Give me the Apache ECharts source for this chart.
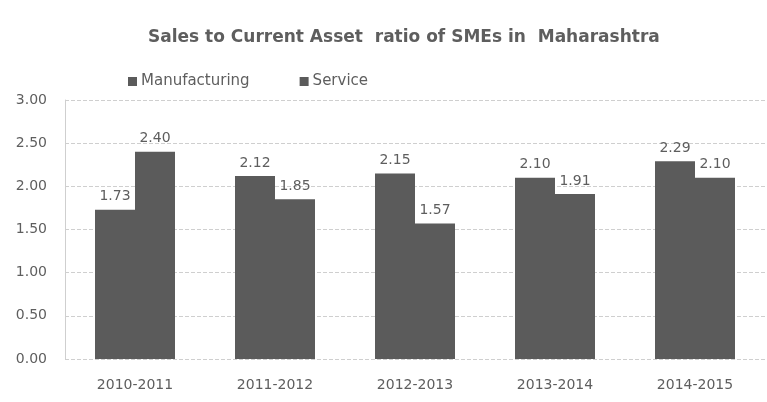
<!DOCTYPE html>
<html>
    <head>
        <title>Sales to Current Asset ratio</title>
        <meta charset="UTF-8">
        <script src="https://cdn.jsdelivr.net/npm/echarts@6/dist/echarts.min.js"></script>
    </head>
    <body style="margin:0;background-color:#fff;">
        <div id="main" style="width:767px;height:402px;"></div>
        <script>
            var years = ['2010-2011', '2011-2012', '2012-2013', '2013-2014', '2014-2015'];
            var manufacturing = [1.73, 2.12, 2.15, 2.10, 2.29];
            var service = [2.40, 1.85, 1.57, 1.91, 2.10];

            var gb = {
                bar: '#5b5b5b',
                text: '#5e5e5e',
                grid: '#cfcfcf',
                font: 'DejaVu Sans'
            };

            var myChart = echarts.init(document.getElementById('main'));

            var label = {
                show: true,
                position: 'top',
                distance: 6,
                color: gb.text,
                fontSize: 14,
                fontFamily: gb.font,
                formatter: function (p) {
                    return p.value.toFixed(2);
                }
            };

            var option = {
                backgroundColor: '#fff',
                animation: false,
                title: {
                    text: 'Sales to Current Asset  ratio of SMEs in  Maharashtra',
                    left: 143,
                    top: 24,
                    textStyle: {
                        color: gb.text,
                        fontSize: 17,
                        fontWeight: 'bold',
                        fontFamily: gb.font
                    }
                },
                legend: {
                    left: 123,
                    top: 69,
                    itemWidth: 9,
                    itemHeight: 9,
                    itemGap: 50,
                    icon: 'rect',
                    textStyle: {
                        color: gb.text,
                        fontSize: 15,
                        fontFamily: gb.font,
                        padding: [0, 0, 0, -1]
                    },
                    data: ['Manufacturing', 'Service']
                },
                grid: {
                    left: 65,
                    right: 2,
                    top: 100,
                    bottom: 43
                },
                xAxis: {
                    type: 'category',
                    data: years,
                    axisLine: {show: false},
                    axisTick: {show: false},
                    axisLabel: {
                        color: gb.text,
                        fontSize: 14,
                        fontFamily: gb.font,
                        margin: 19
                    }
                },
                yAxis: {
                    type: 'value',
                    min: 0,
                    max: 3,
                    interval: 0.5,
                    axisLine: {show: true, lineStyle: {color: gb.grid}},
                    axisTick: {show: false},
                    axisLabel: {
                        color: gb.text,
                        fontSize: 14,
                        fontFamily: gb.font,
                        margin: 18,
                        formatter: function (v) {
                            return v.toFixed(2);
                        }
                    },
                    splitLine: {
                        lineStyle: {color: gb.grid, type: 'dashed'}
                    }
                },
                series: [
                    {
                        name: 'Manufacturing',
                        type: 'bar',
                        data: manufacturing,
                        barWidth: 40,
                        barGap: '0%',
                        itemStyle: {color: gb.bar},
                        label: label
                    },
                    {
                        name: 'Service',
                        type: 'bar',
                        data: service,
                        barWidth: 40,
                        barGap: '0%',
                        itemStyle: {color: gb.bar},
                        label: label
                    }
                ]
            };
            myChart.setOption(option);
        </script>
    </body>
</html>
